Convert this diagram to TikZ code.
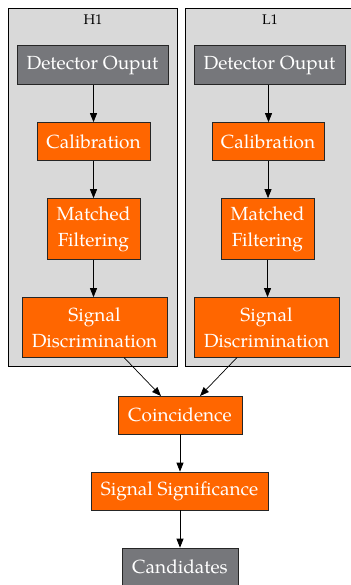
\documentclass[tikz,border=0pt]{standalone}
\usepackage{fontspec}
\setmainfont{texgyrepagella-regular.otf}
\usetikzlibrary{arrows.meta}
\definecolor{orng}{HTML}{FF6600}
\definecolor{dgray}{HTML}{76777B}
\definecolor{clfill}{HTML}{D9D9D9}
\tikzset{
  x=1pt, y=-1pt,
  box/.style={draw=black!85, line width=0.7pt, inner sep=0pt, text=white, align=center,
     font=\fontsize{19}{26}\selectfont},
  proc/.style={box, fill=orng},
  io/.style={box, fill=dgray},
  cluster/.style={draw=black, line width=0.9pt, fill=clfill},
  clabel/.style={font=\fontsize{14}{16}\selectfont, text=black},
  arr/.style={-{Triangle[length=9pt,width=7pt]}, line width=0.7pt, black}
}
\begin{document}
\begin{tikzpicture}
\useasboundingbox (0,0) rectangle (350,585);
\fill[white] (0,0) rectangle (350,585);
\draw[cluster] (8,8) rectangle (177,366);
\draw[cluster] (185,8) rectangle (360,366);
\node[clabel] (h1) at (93,20) {H1};
\node[clabel] (l1) at (270,20) {L1};
% H1
\node[io, minimum width=151pt, minimum height=39pt] (hdo) at (92.5,65) {Detector Ouput};
\node[proc, minimum width=113pt, minimum height=38pt] (hcal) at (93.5,141.5) {Calibration};
\node[proc, minimum width=93pt, minimum height=61pt] (hmf) at (93.5,229) {Matched\\Filtering};
\node[proc, minimum width=145pt, minimum height=60pt] (hsd) at (94.5,327.5) {Signal\\Discrimination};
% L1
\node[io, minimum width=151pt, minimum height=39pt] (ldo) at (269.5,65) {Detector Ouput};
\node[proc, minimum width=112pt, minimum height=38pt] (lcal) at (268,141.5) {Calibration};
\node[proc, minimum width=93pt, minimum height=61pt] (lmf) at (267.5,229) {Matched\\Filtering};
\node[proc, minimum width=145pt, minimum height=60pt] (lsd) at (266.5,327.5) {Signal\\Discrimination};
% bottom
\node[proc, minimum width=124pt, minimum height=38pt] (coin) at (180,415) {Coincidence};
\node[proc, minimum width=177pt, minimum height=38pt] (sig) at (179.5,491) {Signal Significance};
\node[io, minimum width=116pt, minimum height=38pt] (cand) at (180,567) {Candidates};
% arrows
\draw[arr] ([xshift=1pt]hdo.south) -- ([xshift=1pt]hdo.south |- hcal.north);
\draw[arr] (hcal.south) -- (hcal.south |- hmf.north);
\draw[arr] (hmf.south) -- (hmf.south |- hsd.north);
\draw[arr] ([xshift=-1pt]ldo.south) -- ([xshift=-1pt]ldo.south |- lcal.north);
\draw[arr] (lcal.south) -- (lcal.south |- lmf.north);
\draw[arr] (lmf.south) -- (lmf.south |- lsd.north);
\coordinate (hs) at (124,357.5);
\coordinate (ls) at (237,357.5);
\coordinate (ch) at (161,396);
\coordinate (cl) at (200,396);
\draw[arr] (hs) -- (ch);
\draw[arr] (ls) -- (cl);
\draw[arr] (coin.south) -- (coin.south |- sig.north);
\draw[arr] (sig.south -| coin.south) -- (coin.south |- cand.north);
\end{tikzpicture}
\end{document}
